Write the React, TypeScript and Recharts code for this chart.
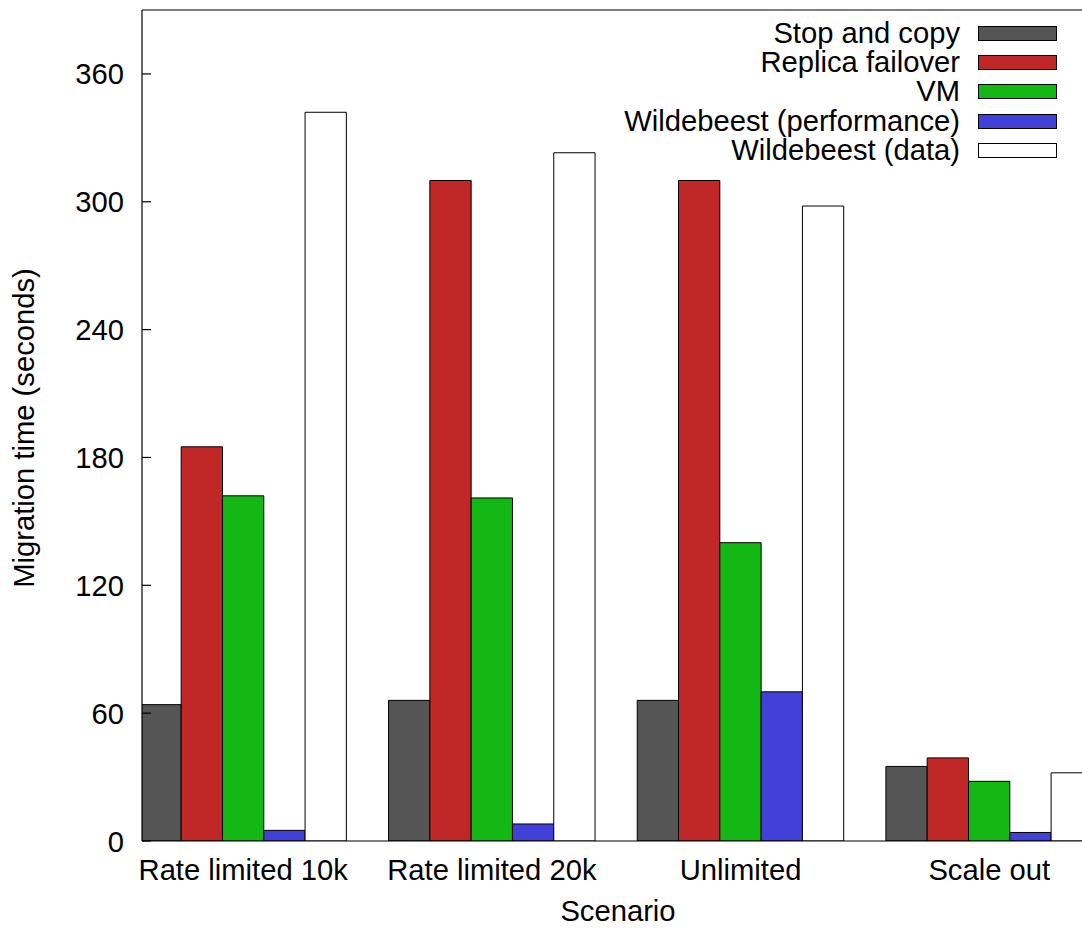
import React from 'react';
import { BarChart, Bar, XAxis, YAxis, ReferenceLine, Legend } from 'recharts';

const scenarios = ['Rate limited 10k', 'Rate limited 20k', 'Unlimited', 'Scale out'];
const stopAndCopy = [64, 66, 66, 35];
const replicaFailover = [185, 310, 310, 39];
const vm = [162, 161, 140, 28];
const wbPerformance = [5, 8, 70, 4];
const wbData = [342, 323, 298, 32];
const yTicks = [0, 60, 120, 180, 240, 300, 360];

const series = [
  { key: 'stop', name: 'Stop and copy', color: '#555555' },
  { key: 'replica', name: 'Replica failover', color: '#c02828' },
  { key: 'vm', name: 'VM', color: '#14b814' },
  { key: 'wbp', name: 'Wildebeest (performance)', color: '#4141d9' },
  { key: 'wbd', name: 'Wildebeest (data)', color: '#ffffff' },
];

const data = scenarios.map((s, i) => ({
  idx: i,
  name: s,
  stop: stopAndCopy[i],
  replica: replicaFailover[i],
  vm: vm[i],
  wbp: wbPerformance[i],
  wbd: wbData[i],
}));

const FONT = '"Liberation Sans", Arial, Helvetica, sans-serif';
const FS = 29.2;

const YTick = (props: any) => {
  const { x, y, payload } = props;
  return (
    <g>
      <line x1={x} y1={y} x2={x + 9} y2={y} stroke="#000" strokeWidth={1.2} />
      <text x={x - 18} y={y + 10.5} textAnchor="end" fontFamily={FONT} fontSize={FS} fill="#000">
        {payload.value}
      </text>
    </g>
  );
};

const XTick = (props: any) => {
  const { x, y, payload } = props;
  return (
    <text x={x} y={y + 39} textAnchor="middle" fontFamily={FONT} fontSize={FS} fill="#000">
      {scenarios[payload.value]}
    </text>
  );
};

const LegendBox = () => (
  <div style={{ position: 'relative', width: 1082, height: 0 }}>
    {series.map((s, i) => {
      const cy = 33 + i * 29.2;
      return (
        <React.Fragment key={s.key}>
          <span
            style={{
              position: 'absolute',
              right: 122,
              top: cy - 16,
              lineHeight: '32px',
              fontSize: FS,
              fontFamily: FONT,
              color: '#000',
              whiteSpace: 'nowrap',
            }}
          >
            {s.name}
          </span>
          <div
            style={{
              position: 'absolute',
              left: 978,
              top: cy - 7,
              width: 79,
              height: 15,
              boxSizing: 'border-box',
              border: '1px solid #000',
              background: s.color,
            }}
          />
        </React.Fragment>
      );
    })}
  </div>
);

export default function App() {
  return (
    <div style={{ position: 'fixed', left: 0, top: 0, width: 1082, height: 928, background: '#fff' }}>
      <BarChart
        width={1082}
        height={928}
        data={data}
        margin={{ top: 10, right: 0, bottom: 0, left: 0 }}
        barGap={0}
        barSize={41.3}
      >
        <XAxis
          dataKey="idx"
          type="number"
          domain={[-0.407, 3.373]}
          allowDataOverflow
          ticks={[0, 1, 2, 3]}
          tick={<XTick />}
          tickLine={false}
          tickSize={0}
          tickMargin={0}
          height={87}
          axisLine={{ stroke: '#000', strokeWidth: 1.2 }}
          label={{
            content: () => (
              <text x={618} y={921} textAnchor="middle" fontFamily={FONT} fontSize={FS} fill="#000">
                Scenario
              </text>
            ),
          }}
        />
        <YAxis
          type="number"
          domain={[0, 390]}
          allowDataOverflow
          ticks={yTicks}
          tick={<YTick />}
          tickLine={false}
          tickSize={0}
          tickMargin={0}
          width={142}
          axisLine={{ stroke: '#000', strokeWidth: 1.2 }}
          label={{
            content: () => (
              <text
                x={0}
                y={0}
                transform="translate(34, 428) rotate(-90)"
                textAnchor="middle"
                fontFamily={FONT}
                fontSize={FS}
                fill="#000"
              >
                Migration time (seconds)
              </text>
            ),
          }}
        />
        <ReferenceLine y={390} stroke="#000" strokeWidth={1.2} />
        <Legend
          content={<LegendBox />}
          wrapperStyle={{ position: 'absolute', top: 0, left: 0, width: 1082, height: 0 }}
        />
        {series.map((s) => (
          <Bar
            key={s.key}
            dataKey={s.key}
            name={s.name}
            fill={s.color}
            stroke="#000"
            strokeWidth={1}
            isAnimationActive={false}
          />
        ))}
      </BarChart>
    </div>
  );
}
